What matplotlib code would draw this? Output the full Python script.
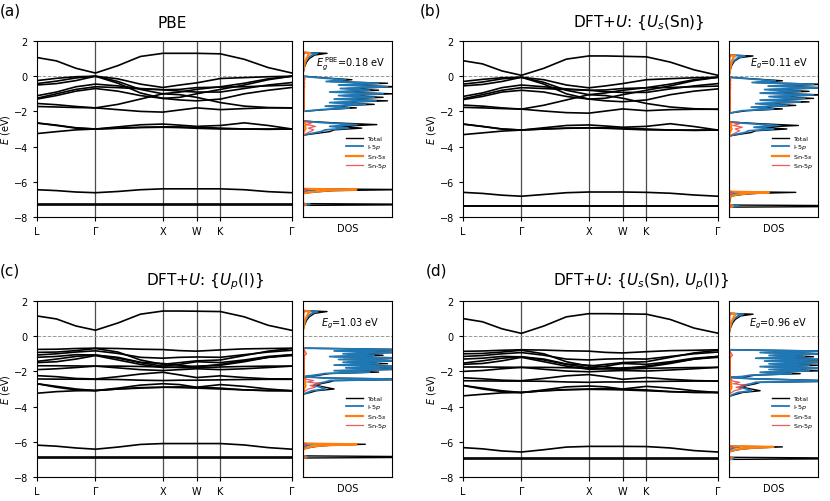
import matplotlib
matplotlib.use("Agg")
import matplotlib.pyplot as plt
import numpy as np

# high symmetry path L-G-X-W-K-G (fcc, units of 2pi/a)
hs_pos = [0.0, 0.866, 1.866, 2.366, 2.720, 3.781]
hs_labels = ["L", "\u0393", "X", "W", "K", "\u0393"]
seg_steps = [3, 3, 2, 1, 3]
kpath = [hs_pos[0]]
for i, n in enumerate(seg_steps):
    kpath += list(np.linspace(hs_pos[i], hs_pos[i + 1], n + 1)[1:])
kpath = np.array(kpath)

# ---- (a) PBE ----
cb_a = [1.06, 0.87, 0.45, 0.18, 0.6, 1.12, 1.3, 1.3, 1.3, 1.27, 0.96, 0.49, 0.18]
vb_a = [
    [-0.25, -0.12, -0.03, 0.0, -0.15, -0.45, -0.64, -0.5, -0.38, -0.13, -0.08, -0.03, 0.0],
    [-0.42, -0.28, -0.1, 0.0, -0.3, -0.75, -1.0, -0.9, -0.75, -0.6, -0.4, -0.15, 0.0],
    [-0.5, -0.42, -0.25, 0.0, -0.4, -0.95, -1.26, -1.2, -1.0, -0.75, -0.5, -0.2, 0.0],
    [-1.11, -0.9, -0.6, -0.45, -0.55, -0.7, -0.77, -0.85, -0.9, -0.9, -0.7, -0.5, -0.36],
    [-1.25, -1.0, -0.75, -0.6, -0.65, -0.72, -0.77, -0.75, -0.65, -0.62, -0.6, -0.55, -0.5],
    [-1.3, -1.1, -0.85, -0.7, -0.85, -1.1, -1.26, -1.35, -1.4, -1.3, -1.0, -0.8, -0.64],
    [-1.55, -1.62, -1.72, -1.8, -1.6, -1.3, -1.0, -1.05, -1.2, -1.5, -1.7, -1.78, -1.8],
    [-1.72, -1.75, -1.78, -1.8, -1.9, -2.0, -2.04, -1.92, -1.8, -1.9, -1.84, -1.8, -1.8],
    [-2.66, -2.78, -2.93, -3.0, -2.88, -2.76, -2.72, -2.78, -2.85, -2.8, -2.65, -2.8, -3.0],
    [-3.26, -3.15, -3.05, -3.0, -2.96, -2.92, -2.9, -2.92, -2.96, -3.0, -3.0, -3.0, -3.0],
    [-2.66, -2.8, -2.95, -3.0, -2.95, -2.9, -2.88, -2.88, -2.9, -2.95, -3.0, -3.02, -3.0],
    [-6.45, -6.5, -6.58, -6.62, -6.55, -6.45, -6.4, -6.4, -6.4, -6.4, -6.45, -6.56, -6.62],
    [-7.28, -7.28, -7.28, -7.28, -7.28, -7.28, -7.28, -7.28, -7.28, -7.28, -7.28, -7.28, -7.28],
    [-7.32, -7.32, -7.32, -7.32, -7.32, -7.32, -7.32, -7.32, -7.32, -7.32, -7.32, -7.32, -7.32],
]
dos_e_a = [1.35, 1.3, 1.2, 1.0, 0.8, 0.5, 0.18, 0.1,
           0.0, -0.1, -0.2, -0.3, -0.4, -0.5, -0.6, -0.7, -0.8, -0.9, -1.0,
           -1.1, -1.2, -1.3, -1.4, -1.5, -1.6, -1.7, -1.8, -1.9, -2.0, -2.5,
           -2.55, -2.65, -2.75, -2.85, -2.95, -3.05, -3.15, -3.25, -3.35, -6.36,
           -6.4, -6.44, -6.5, -6.56, -6.62, -6.66, -7.24, -7.28, -7.3, -7.34, -8.0]
tot_a = [0, 0.27, 0.13, 0.07, 0.04, 0.015, 0, 0,
         0, 0.25, 0.55, 0.3, 0.95, 0.45, 1.05, 0.5, 0.85, 0.35, 1.02,
         0.45, 0.9, 0.4, 0.95, 0.35, 0.8, 0.3, 0.6, 0.25, 0, 0,
         0, 0.35, 0.83, 0.4, 0.66, 0.35, 0.3, 0.15, 0, 0,
         0, 1.2, 0.35, 0.18, 0.05, 0, 0, 1.5, 1.5, 0, 0]
ip_a = [0, 0.16, 0.1, 0.05, 0.03, 0.01, 0, 0,
        0, 0.2, 0.48, 0.26, 0.85, 0.4, 0.95, 0.42, 0.75, 0.3, 0.9,
        0.4, 0.8, 0.35, 0.82, 0.3, 0.7, 0.25, 0.52, 0.2, 0, 0,
        0, 0.25, 0.6, 0.3, 0.5, 0.25, 0.2, 0.1, 0, 0,
        0, 0.15, 0.05, 0.03, 0.01, 0, 0, 0.08, 0.06, 0, 0]
sns_a = [0, 0.08, 0.06, 0.04, 0.02, 0.01, 0, 0,
         0, 0.01, 0.01, 0.01, 0.01, 0.01, 0.01, 0.01, 0.01, 0.01, 0.01,
         0.01, 0.01, 0.01, 0.01, 0.01, 0.01, 0.01, 0.01, 0.01, 0, 0,
         0, 0.02, 0.03, 0.02, 0.03, 0.02, 0.01, 0, 0, 0,
         0, 0.6, 0.28, 0.14, 0.04, 0, 0, 0.03, 0.03, 0, 0]
snp_a = [0, 0.02, 0.01, 0.01, 0.005, 0, 0, 0,
         0, 0.02, 0.02, 0.01, 0.02, 0.01, 0.02, 0.01, 0.01, 0.01, 0.01,
         0.01, 0.01, 0.01, 0.01, 0.01, 0.01, 0.01, 0.01, 0.01, 0, 0,
         0, 0.1, 0.04, 0.14, 0.06, 0.12, 0.08, 0.04, 0, 0,
         0, 0.05, 0.02, 0.01, 0, 0, 0, 0.02, 0.02, 0, 0]

# ---- (b) DFT+U {Us(Sn)} ----
cb_b = [0.88, 0.7, 0.3, 0.05, 0.45, 0.97, 1.15, 1.15, 1.13, 1.1, 0.8, 0.36, 0.05]
vb_b = [
    [-0.3, -0.18, -0.09, -0.06, -0.2, -0.5, -0.66, -0.55, -0.42, -0.2, -0.14, -0.09, -0.06],
    [-0.45, -0.33, -0.15, -0.06, -0.35, -0.8, -1.05, -0.95, -0.8, -0.65, -0.45, -0.2, -0.06],
    [-0.55, -0.47, -0.3, -0.06, -0.45, -1.0, -1.3, -1.25, -1.05, -0.8, -0.55, -0.25, -0.06],
    [-1.15, -0.95, -0.65, -0.5, -0.6, -0.72, -0.8, -0.88, -0.92, -0.92, -0.72, -0.55, -0.42],
    [-1.28, -1.05, -0.8, -0.65, -0.7, -0.76, -0.8, -0.78, -0.7, -0.66, -0.64, -0.6, -0.56],
    [-1.33, -1.15, -0.9, -0.8, -0.9, -1.15, -1.3, -1.4, -1.45, -1.35, -1.05, -0.85, -0.72],
    [-1.64, -1.7, -1.8, -1.87, -1.65, -1.35, -1.05, -1.1, -1.25, -1.55, -1.75, -1.85, -1.88],
    [-1.77, -1.8, -1.84, -1.87, -1.98, -2.07, -2.1, -1.98, -1.86, -1.96, -1.9, -1.88, -1.88],
    [-2.72, -2.85, -3.0, -3.06, -2.93, -2.8, -2.77, -2.83, -2.9, -2.85, -2.7, -2.86, -3.06],
    [-3.32, -3.22, -3.12, -3.06, -3.0, -2.96, -2.94, -2.96, -3.0, -3.05, -3.06, -3.06, -3.06],
    [-2.72, -2.86, -3.0, -3.06, -3.0, -2.95, -2.93, -2.93, -2.95, -3.0, -3.06, -3.08, -3.06],
    [-6.6, -6.66, -6.76, -6.82, -6.72, -6.62, -6.58, -6.58, -6.58, -6.6, -6.65, -6.75, -6.82],
    [-7.36, -7.36, -7.36, -7.36, -7.36, -7.36, -7.36, -7.36, -7.36, -7.36, -7.36, -7.36, -7.36],
    [-7.4, -7.4, -7.4, -7.4, -7.4, -7.4, -7.4, -7.4, -7.4, -7.4, -7.4, -7.4, -7.4],
]
dos_e_b = [1.2, 1.15, 1.05, 0.85, 0.6, 0.3, 0.05, 0.0,
           -0.06, -0.16, -0.26, -0.36, -0.46, -0.56, -0.66, -0.76, -0.86, -0.96, -1.06,
           -1.16, -1.26, -1.36, -1.46, -1.56, -1.66, -1.76, -1.86, -1.96, -2.1, -2.55,
           -2.6, -2.7, -2.8, -2.9, -3.0, -3.1, -3.2, -3.3, -3.4, -6.52,
           -6.56, -6.6, -6.66, -6.72, -6.78, -6.84, -7.32, -7.36, -7.4, -7.44, -8.0]
tot_b = [0, 0.27, 0.12, 0.06, 0.03, 0.01, 0, 0,
         0, 0.3, 0.6, 0.3, 1.05, 0.5, 1.1, 0.45, 0.9, 0.4, 1.05,
         0.5, 0.95, 0.4, 0.9, 0.35, 0.75, 0.3, 0.6, 0.2, 0, 0,
         0, 0.35, 0.78, 0.35, 0.65, 0.3, 0.25, 0.12, 0, 0,
         0, 0.75, 0.3, 0.15, 0.06, 0.02, 0, 1.5, 1.5, 0, 0]
ip_b = [0, 0.18, 0.1, 0.05, 0.02, 0.01, 0, 0,
        0, 0.25, 0.52, 0.26, 0.95, 0.44, 1.0, 0.4, 0.8, 0.35, 0.95,
        0.45, 0.85, 0.35, 0.8, 0.3, 0.65, 0.25, 0.5, 0.15, 0, 0,
        0, 0.25, 0.55, 0.28, 0.5, 0.22, 0.18, 0.08, 0, 0,
        0, 0.15, 0.06, 0.03, 0.01, 0, 0, 0.1, 0.08, 0, 0]
sns_b = [0, 0.07, 0.05, 0.03, 0.02, 0.01, 0, 0,
         0, 0.01, 0.01, 0.01, 0.01, 0.01, 0.01, 0.01, 0.01, 0.01, 0.01,
         0.01, 0.01, 0.01, 0.01, 0.01, 0.01, 0.01, 0.01, 0.01, 0, 0,
         0, 0.02, 0.03, 0.02, 0.03, 0.02, 0.01, 0, 0, 0,
         0, 0.45, 0.22, 0.1, 0.04, 0.01, 0, 0.04, 0.04, 0, 0]
snp_b = [0, 0.02, 0.01, 0.01, 0.005, 0, 0, 0,
         0, 0.02, 0.02, 0.01, 0.02, 0.01, 0.02, 0.01, 0.01, 0.01, 0.01,
         0.01, 0.01, 0.01, 0.01, 0.01, 0.01, 0.01, 0.01, 0.01, 0, 0,
         0, 0.12, 0.05, 0.15, 0.07, 0.12, 0.08, 0.04, 0, 0,
         0, 0.04, 0.02, 0.01, 0, 0, 0, 0.02, 0.02, 0, 0]

# ---- (c) DFT+U {Up(I)} ----
cb_c = [1.15, 0.98, 0.58, 0.34, 0.75, 1.25, 1.43, 1.43, 1.42, 1.4, 1.1, 0.62, 0.33]
vb_c = [
    [-0.75, -0.74, -0.7, -0.68, -0.7, -0.74, -0.76, -0.82, -0.85, -0.78, -0.72, -0.7, -0.68],
    [-0.92, -0.9, -0.82, -0.7, -0.9, -1.35, -1.6, -1.5, -1.4, -1.35, -1.1, -0.85, -0.7],
    [-1.07, -1.0, -0.9, -0.83, -0.98, -1.2, -1.25, -1.2, -1.18, -1.2, -1.05, -0.9, -0.8],
    [-1.2, -1.15, -1.05, -1.07, -1.25, -1.5, -1.7, -1.6, -1.45, -1.5, -1.35, -1.15, -1.05],
    [-1.43, -1.3, -1.15, -1.07, -1.2, -1.48, -1.55, -1.65, -1.75, -1.6, -1.4, -1.2, -1.05],
    [-1.5, -1.45, -1.3, -1.1, -1.35, -1.6, -1.78, -1.75, -1.7, -1.65, -1.45, -1.2, -1.1],
    [-1.68, -1.68, -1.69, -1.7, -1.7, -1.72, -1.75, -1.78, -1.8, -1.75, -1.72, -1.7, -1.7],
    [-1.9, -1.85, -1.78, -1.7, -1.8, -1.9, -1.95, -1.9, -1.85, -1.9, -1.85, -1.78, -1.7],
    [-2.24, -2.3, -2.4, -2.43, -2.3, -2.15, -2.05, -2.2, -2.35, -2.25, -2.35, -2.42, -2.43],
    [-2.43, -2.44, -2.44, -2.45, -2.46, -2.5, -2.52, -2.5, -2.5, -2.48, -2.46, -2.45, -2.45],
    [-2.7, -2.9, -3.05, -3.09, -2.95, -2.78, -2.7, -2.75, -2.9, -2.75, -2.85, -3.0, -3.1],
    [-3.24, -3.15, -3.1, -3.09, -3.0, -2.92, -2.9, -2.92, -2.95, -3.0, -3.05, -3.08, -3.1],
    [-2.7, -2.85, -3.0, -3.09, -3.0, -2.95, -2.9, -2.88, -2.9, -2.95, -3.05, -3.1, -3.1],
    [-6.19, -6.25, -6.35, -6.42, -6.3, -6.15, -6.1, -6.1, -6.1, -6.1, -6.18, -6.33, -6.42],
    [-6.85, -6.85, -6.85, -6.85, -6.85, -6.85, -6.85, -6.85, -6.85, -6.85, -6.85, -6.85, -6.85],
    [-6.9, -6.9, -6.9, -6.9, -6.9, -6.9, -6.9, -6.9, -6.9, -6.9, -6.9, -6.9, -6.9],
]
dos_e_c = [1.45, 1.4, 1.3, 1.1, 0.9, 0.6, 0.33, 0.0,
           -0.68, -0.76, -0.84, -0.92, -1.0, -1.08, -1.16, -1.24, -1.32, -1.4, -1.48,
           -1.56, -1.64, -1.72, -1.8, -1.88, -1.96, -2.04, -2.12, -2.2, -2.3,
           -2.38, -2.45, -2.52, -2.6, -2.7, -2.8, -2.9, -3.0, -3.1, -3.2, -3.3, -6.05,
           -6.1, -6.14, -6.2, -6.26, -6.32, -6.38, -6.42, -6.8, -6.85, -6.88, -6.92, -8.0]
tot_c = [0, 0.27, 0.13, 0.07, 0.04, 0.015, 0, 0,
         0, 1.2, 0.4, 1.1, 0.5, 0.9, 0.35, 1.2, 0.45, 1.1, 0.5,
         0.95, 0.4, 1.2, 0.55, 1.1, 0.4, 0.85, 0.3, 0.2, 0,
         0.3, 1.3, 0.35, 0.3, 0.2, 0.15, 0.25, 0.35, 0.15, 0.08, 0, 0,
         0, 0.7, 0.3, 0.15, 0.08, 0.03, 0, 0, 1.5, 1.5, 0, 0]
ip_c = [0, 0.16, 0.1, 0.05, 0.03, 0.01, 0, 0,
        0, 1.1, 0.35, 1.0, 0.45, 0.8, 0.3, 1.1, 0.4, 1.0, 0.45,
        0.85, 0.35, 1.1, 0.48, 1.0, 0.35, 0.75, 0.25, 0.15, 0,
        0.25, 1.2, 0.3, 0.25, 0.15, 0.12, 0.2, 0.25, 0.1, 0.05, 0, 0,
        0, 0.12, 0.05, 0.03, 0.01, 0, 0, 0, 0.06, 0.05, 0, 0]
sns_c = [0, 0.08, 0.06, 0.04, 0.02, 0.01, 0, 0,
         0, 0.01, 0.01, 0.01, 0.01, 0.01, 0.01, 0.01, 0.01, 0.01, 0.01,
         0.01, 0.01, 0.01, 0.01, 0.01, 0.01, 0.01, 0.01, 0.01, 0,
         0.01, 0.02, 0.02, 0.03, 0.02, 0.03, 0.02, 0.01, 0.01, 0, 0, 0,
         0, 0.6, 0.26, 0.12, 0.06, 0.02, 0, 0, 0.03, 0.03, 0, 0]
snp_c = [0, 0.02, 0.01, 0.01, 0.005, 0, 0, 0,
         0, 0.01, 0.02, 0.03, 0.04, 0.02, 0.01, 0.01, 0.01, 0.01, 0.01,
         0.01, 0.01, 0.01, 0.01, 0.01, 0.01, 0.01, 0.01, 0.01, 0,
         0.02, 0.04, 0.12, 0.05, 0.2, 0.08, 0.14, 0.06, 0.03, 0, 0, 0,
         0, 0.04, 0.02, 0.01, 0, 0, 0, 0, 0.02, 0.02, 0, 0]

# ---- (d) DFT+U {Us(Sn), Up(I)} ----
cb_d = [1.0, 0.82, 0.42, 0.16, 0.58, 1.1, 1.28, 1.28, 1.27, 1.25, 0.95, 0.46, 0.17]
vb_d = [
    [-0.86, -0.84, -0.8, -0.77, -0.79, -0.83, -0.85, -0.92, -0.95, -0.88, -0.82, -0.8, -0.77],
    [-1.0, -0.98, -0.9, -0.8, -1.0, -1.45, -1.7, -1.6, -1.5, -1.45, -1.2, -0.95, -0.8],
    [-1.15, -1.1, -1.0, -0.93, -1.08, -1.3, -1.35, -1.3, -1.28, -1.3, -1.15, -1.0, -0.9],
    [-1.3, -1.25, -1.15, -1.17, -1.35, -1.6, -1.8, -1.7, -1.55, -1.6, -1.45, -1.25, -1.15],
    [-1.53, -1.4, -1.25, -1.17, -1.3, -1.58, -1.65, -1.75, -1.85, -1.7, -1.5, -1.3, -1.15],
    [-1.6, -1.55, -1.4, -1.2, -1.45, -1.7, -1.88, -1.85, -1.8, -1.75, -1.55, -1.3, -1.2],
    [-1.75, -1.75, -1.76, -1.77, -1.77, -1.79, -1.82, -1.85, -1.88, -1.83, -1.8, -1.78, -1.77],
    [-2.0, -1.95, -1.85, -1.77, -1.88, -1.98, -2.02, -1.98, -1.95, -1.98, -1.92, -1.85, -1.77],
    [-2.36, -2.42, -2.5, -2.53, -2.4, -2.25, -2.18, -2.3, -2.45, -2.35, -2.45, -2.52, -2.55],
    [-2.53, -2.54, -2.55, -2.55, -2.56, -2.6, -2.62, -2.6, -2.6, -2.58, -2.56, -2.55, -2.55],
    [-2.8, -3.0, -3.15, -3.2, -3.05, -2.88, -2.83, -2.88, -3.0, -2.85, -2.95, -3.1, -3.2],
    [-3.39, -3.3, -3.22, -3.2, -3.1, -3.03, -3.02, -3.03, -3.05, -3.1, -3.15, -3.18, -3.2],
    [-2.8, -2.95, -3.1, -3.2, -3.1, -3.05, -3.0, -2.98, -3.0, -3.05, -3.15, -3.2, -3.2],
    [-6.33, -6.4, -6.52, -6.58, -6.45, -6.3, -6.26, -6.26, -6.26, -6.27, -6.35, -6.5, -6.58],
    [-6.93, -6.93, -6.93, -6.93, -6.93, -6.93, -6.93, -6.93, -6.93, -6.93, -6.93, -6.93, -6.93],
    [-6.98, -6.98, -6.98, -6.98, -6.98, -6.98, -6.98, -6.98, -6.98, -6.98, -6.98, -6.98, -6.98],
]
dos_e_d = [1.3, 1.25, 1.15, 0.95, 0.75, 0.45, 0.16, 0.0,
           -0.77, -0.85, -0.93, -1.01, -1.09, -1.17, -1.25, -1.33, -1.41, -1.49, -1.57,
           -1.65, -1.73, -1.81, -1.89, -1.97, -2.05, -2.13, -2.21, -2.29, -2.34,
           -2.42, -2.55, -2.62, -2.7, -2.8, -2.9, -3.0, -3.1, -3.2, -3.3, -3.42, -6.2,
           -6.25, -6.29, -6.35, -6.41, -6.47, -6.53, -6.58, -6.88, -6.93, -6.96, -7.0, -8.0]
tot_d = [0, 0.27, 0.13, 0.07, 0.04, 0.015, 0, 0,
         0, 1.15, 0.4, 1.1, 0.5, 0.95, 0.35, 1.2, 0.45, 1.1, 0.5,
         1.0, 0.4, 1.2, 0.5, 1.0, 0.4, 0.8, 0.3, 0.2, 0,
         0.3, 1.3, 0.35, 0.3, 0.2, 0.15, 0.25, 0.35, 0.15, 0.08, 0, 0,
         0, 0.6, 0.3, 0.15, 0.08, 0.03, 0, 0, 1.5, 1.5, 0, 0]
ip_d = [0, 0.16, 0.1, 0.05, 0.03, 0.01, 0, 0,
        0, 1.05, 0.35, 1.0, 0.45, 0.85, 0.3, 1.1, 0.4, 1.0, 0.45,
        0.9, 0.35, 1.1, 0.45, 0.9, 0.35, 0.7, 0.25, 0.15, 0,
        0.25, 1.2, 0.3, 0.25, 0.15, 0.12, 0.2, 0.25, 0.1, 0.05, 0, 0,
        0, 0.12, 0.05, 0.03, 0.01, 0, 0, 0, 0.06, 0.05, 0, 0]
sns_d = [0, 0.08, 0.06, 0.04, 0.02, 0.01, 0, 0,
         0, 0.01, 0.01, 0.01, 0.01, 0.01, 0.01, 0.01, 0.01, 0.01, 0.01,
         0.01, 0.01, 0.01, 0.01, 0.01, 0.01, 0.01, 0.01, 0.01, 0,
         0.01, 0.02, 0.02, 0.03, 0.02, 0.03, 0.02, 0.01, 0.01, 0, 0, 0,
         0, 0.5, 0.24, 0.12, 0.06, 0.02, 0, 0, 0.03, 0.03, 0, 0]
snp_d = [0, 0.02, 0.01, 0.01, 0.005, 0, 0, 0,
         0, 0.01, 0.02, 0.03, 0.04, 0.02, 0.01, 0.01, 0.01, 0.01, 0.01,
         0.01, 0.01, 0.01, 0.01, 0.01, 0.01, 0.01, 0.01, 0.01, 0,
         0.02, 0.04, 0.12, 0.05, 0.2, 0.08, 0.14, 0.06, 0.03, 0, 0, 0,
         0, 0.04, 0.02, 0.01, 0, 0, 0, 0, 0.02, 0.02, 0, 0]

titles = ["PBE", r"DFT+$U$: {$U_s$(Sn)}", r"DFT+$U$: {$U_p$(I)}",
          r"DFT+$U$: {$U_s$(Sn), $U_p$(I)}"]
labels = ["(a)", "(b)", "(c)", "(d)"]
gap_texts = [r"$E_g^{\,\mathrm{PBE}}$=0.18 eV", r"$E_g$=0.11 eV",
             r"$E_g$=1.03 eV", r"$E_g$=0.96 eV"]

W, H = 830, 502
fig = plt.figure(figsize=(W / 100, H / 100), dpi=100)


def px_axes(x0, y0, w, h):
    return fig.add_axes([x0 / W, 1 - (y0 + h) / H, w / W, h / H])


def draw(ix, ox, oy, cb, vbs, de, tot, ip, sns, snp, tx, ty, gx, lx):
    ax = px_axes(ox + 37, oy + 42, 255, 176)
    for x in hs_pos[1:-1]:
        ax.axvline(x, color="0.3", lw=0.9)
    ax.axhline(0, color="0.6", lw=0.7, ls="--")
    ax.plot(kpath, cb, color="k", lw=1.2)
    for b in vbs:
        ax.plot(kpath, b, color="k", lw=1.2)
    ax.set_xlim(hs_pos[0], hs_pos[-1])
    ax.set_ylim(-8, 2)
    ax.set_xticks(hs_pos)
    ax.set_xticklabels(hs_labels)
    ax.set_yticks([-8, -6, -4, -2, 0, 2])
    ax.tick_params(labelsize=7, length=3, width=0.8)
    ax.set_ylabel(r"$E$ (eV)", fontsize=7, labelpad=1)

    ad = px_axes(ox + 303, oy + 42, 89, 176)
    ad.axhline(0, color="0.6", lw=0.7, ls="--")
    de = np.array(de)
    ad.plot(tot, de, color="k", lw=1.0, label="Total")
    ad.plot(ip, de, color="#1f77b4", lw=1.3, label=r"I-5$p$")
    ad.plot(sns, de, color="#ff7f0e", lw=1.6, label=r"Sn-5$s$")
    ad.plot(snp, de, color="#e8413f", lw=0.9, alpha=0.85, label=r"Sn-5$p$")
    ad.set_xlim(0, 1)
    ad.set_ylim(-8, 2)
    ad.set_xticks([])
    ad.set_yticks([])
    ad.set_xlabel("DOS", fontsize=7, labelpad=4)
    ad.text(gx, 0.875, gap_texts[ix], transform=ad.transAxes, fontsize=7,
            va="center")
    ad.legend(loc="upper right", bbox_to_anchor=(1.0, 0.49), frameon=False,
              fontsize=4.6, handlelength=2.6, handletextpad=0.6,
              labelspacing=0.15, borderpad=0.3)

    fig.text(lx / W, 1 - (oy + 11) / H, labels[ix], fontsize=11, va="center")
    fig.text(tx / W, 1 - ty / H, titles[ix], fontsize=11, ha="center",
             va="center")


draw(0, 0, 0, cb_a, vb_a, dos_e_a, tot_a, ip_a, sns_a, snp_a, 172, 23, 0.15, 0)
draw(1, 426, 0, cb_b, vb_b, dos_e_b, tot_b, ip_b, sns_b, snp_b, 639, 23, 0.24, 420)
draw(2, 0, 260, cb_c, vb_c, dos_e_c, tot_c, ip_c, sns_c, snp_c, 205, 282, 0.2, 0)
draw(3, 426, 260, cb_d, vb_d, dos_e_d, tot_d, ip_d, sns_d, snp_d, 641, 282, 0.23, 426)

plt.savefig("out.png", dpi=100)
plt.close()
